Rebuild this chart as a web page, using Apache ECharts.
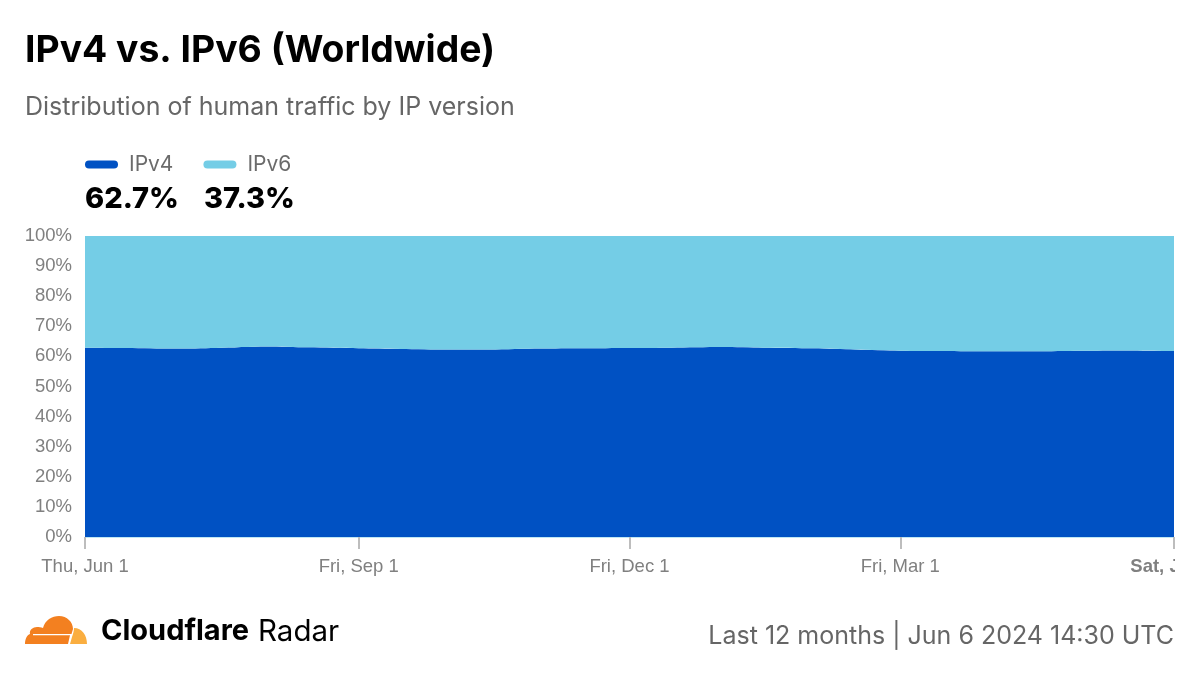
<!DOCTYPE html>
<html>
<head>
<meta charset="utf-8">
<style>html,body{margin:0;padding:0;background:#fff}#chart{width:1200px;height:675px}</style>
<script src="https://cdn.jsdelivr.net/npm/echarts@6/dist/echarts.min.js"></script>
</head>
<body>
<div id="chart"></div>
<script>
var dates = ['2023-06-01','2023-06-15','2023-07-01','2023-07-15','2023-08-01','2023-08-15','2023-09-01','2023-09-15','2023-10-01','2023-10-15','2023-11-01','2023-11-15','2023-12-01','2023-12-15','2024-01-01','2024-01-15','2024-02-01','2024-02-15','2024-03-01','2024-03-15','2024-04-01','2024-04-15','2024-05-01','2024-05-15','2024-06-01'];
var ipv4 = [62.9,62.8,62.6,62.8,63.3,63.0,62.7,62.5,62.3,62.3,62.6,62.7,62.8,62.9,63.1,62.9,62.7,62.3,61.9,61.8,61.7,61.7,61.9,62.0,61.8];
var ipv6 = [37.1,37.2,37.4,37.2,36.7,37.0,37.3,37.5,37.7,37.7,37.4,37.3,37.2,37.1,36.9,37.1,37.3,37.7,38.1,38.2,38.3,38.3,38.1,38.0,38.2];
var tickDates = ['2023-06-01','2023-09-01','2023-12-01','2024-03-01','2024-06-01'];
var tickLabels = ['Thu, Jun 1','Fri, Sep 1','Fri, Dec 1','Fri, Mar 1','Sat, Jun 1'];
var seriesNames = ['IPv4','IPv6'];
var summary = ['62.7%','37.3%'];
var colors = ['#0051c3','#74cde6'];

var tickTimes = tickDates.map(function(d){ return new Date(d + 'T00:00:00Z').getTime(); });
function toSeries(arr){
    return arr.map(function(v,i){ return [new Date(dates[i] + 'T00:00:00Z').getTime(), v]; });
}
function areaSeries(name, arr, color){
    return {
        name: name, type: 'line', stack: 'total', data: toSeries(arr),
        xAxisIndex: 0,
        showSymbol: false, symbol: 'none', smooth: 0.3,
        lineStyle: {width: 0, color: color}, itemStyle: {color: color},
        areaStyle: {color: color, opacity: 1}
    };
}

// logo shapes
echarts.graphic.registerShape('cfCloud', echarts.graphic.extendPath('M25 644 C25 639 27 635 30 634 C29 630 33 627 37 627 C39 627 41 627 43 628 C45 620 52 616 59 616 C67 616 73 622 73 629 L71.5 634 L33 634 L33 635.3 L70 635.3 L68 644 Z'));
echarts.graphic.registerShape('cfCloudSmall', echarts.graphic.extendPath('M70 644 L72 637 C73 634 74 631 74 628 C82 628 87 635 87 644 Z'));

var chart = echarts.init(document.getElementById('chart'));
chart.setOption({
    animation: false,
    backgroundColor: '#fff',
    color: colors,
    textStyle: {fontFamily: 'Inter'},
    grid: {left: 85, right: 26, top: 236, bottom: 138, outerBoundsMode: 'none'},
    legend: {
        left: 85, top: 154, padding: 0, itemWidth: 33, itemHeight: 8, itemGap: 30,
        icon: 'path://M4 0H29A4 4 0 0 1 29 8H4A4 4 0 0 1 4 0Z', data: seriesNames,
        textStyle: {fontFamily: 'Inter', fontSize: 21, color: '#6b6b6b', padding: [0,0,0,6]}
    },
    xAxis: [{
        // carries the stacked series, its line is the grey edge on top of the plot
        type: 'time', position: 'top', z: 5,
        min: tickTimes[0], max: tickTimes[tickTimes.length - 1],
        axisLine: {show: true, lineStyle: {color: '#cfcfcf', width: 1}},
        axisTick: {show: false}, axisLabel: {show: false}, splitLine: {show: false}
    }, {
        // draws the ticks and labels at the month starts
        type: 'value', position: 'bottom', z: 5,
        min: tickTimes[0], max: tickTimes[tickTimes.length - 1],
        axisLine: {show: true, lineStyle: {color: '#bfe6f3', width: 1}},
        axisTick: {show: true, customValues: tickTimes, length: 12, lineStyle: {color: '#bdbdbd', width: 2}},
        splitLine: {show: false},
        axisLabel: {
            customValues: tickTimes, margin: 20, fontFamily: 'Liberation Sans', fontSize: 18.5, color: '#808080',
            showMinLabel: true, showMaxLabel: true,
            formatter: function(v){
                var i = tickTimes.indexOf(v);
                if (i === tickTimes.length - 1) return '{b|' + tickLabels[i] + '}';
                return tickLabels[i];
            },
            rich: {b: {fontFamily: 'Liberation Sans', fontSize: 18.5, fontWeight: 'bold', color: '#808080'}}
        }
    }],
    yAxis: {
        type: 'value', min: 0, max: 100, interval: 10,
        axisLine: {show: false}, axisTick: {show: false},
        splitLine: {show: false},
        axisLabel: {
            margin: 13, fontFamily: 'Liberation Sans', fontSize: 18.5, color: '#808080',
            formatter: '{value}%'
        }
    },
    series: [areaSeries(seriesNames[0], ipv4, colors[0]), areaSeries(seriesNames[1], ipv6, colors[1])],
    graphic: [
        {type: 'text', left: 25, top: 32, style: {text: 'IPv4 vs. IPv6 (Worldwide)', font: 'bold 37.3px Inter', fill: '#000'}},
        {type: 'text', left: 25, top: 95, style: {text: 'Distribution of human traffic by IP version', font: '25px Inter', fill: '#666'}},
        {type: 'text', left: 85, top: 185, style: {text: summary[0], font: '800 29px Inter', fill: '#000'}},
        {type: 'text', left: 204, top: 185, style: {text: summary[1], font: '800 29px Inter', fill: '#000'}},
        // the last tick label is cut at the plot edge in the reference
        {type: 'rect', z: 100, shape: {x: 1175, y: 540, width: 25, height: 50}, style: {fill: '#fff'}},
        {type: 'cfCloud', z: 50, style: {fill: '#f38020'}},
        {type: 'cfCloudSmall', z: 50, style: {fill: '#faae40'}},
        {type: 'text', left: 101, top: 617, style: {text: 'Cloudflare', font: 'bold 29px Inter', fill: '#000'}},
        {type: 'text', left: 258, top: 617, style: {text: 'Radar', font: '29.5px Inter', fill: '#000'}},
        {type: 'text', right: 26, top: 624, style: {text: 'Last 12 months | Jun 6 2024 14:30 UTC', font: '25px Inter', fill: '#666'}}
    ]
});
window.onresize = function(){ chart.resize(); };
</script>
</body>
</html>
